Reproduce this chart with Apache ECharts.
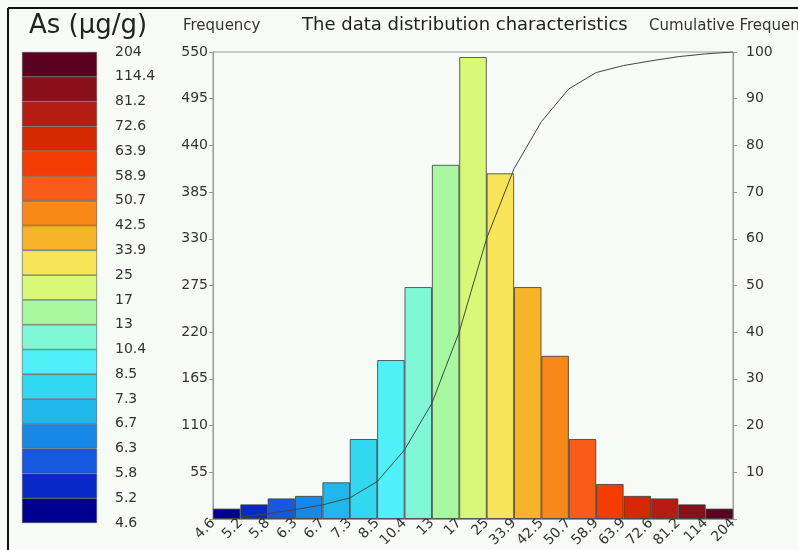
<!DOCTYPE html>
<html>
<head>
<meta charset="utf-8">
<style>
    html, body { margin: 0; padding: 0; background: #f6fbf6; }
    #chart { width: 798px; height: 550px; }
</style>
</head>
<body>
<div id="chart"></div>
<script src="https://cdn.jsdelivr.net/npm/echarts@6/dist/echarts.min.js"></script>
<script>
// class boundaries (x axis) and legend labels
var boundaries = ['4.6', '5.2', '5.8', '6.3', '6.7', '7.3', '8.5', '10.4', '13', '17', '25',
    '33.9', '42.5', '50.7', '58.9', '63.9', '72.6', '81.2', '114', '204'];
var legendLabels = ['4.6', '5.2', '5.8', '6.3', '6.7', '7.3', '8.5', '10.4', '13', '17', '25',
    '33.9', '42.5', '50.7', '58.9', '63.9', '72.6', '81.2', '114.4', '204'];
// frequency of each class, low -> high
var frequency = [12, 17, 24, 27, 43, 94, 187, 273, 417, 544, 407, 273, 192, 94, 41, 27, 24, 17, 12];
// cumulative frequency (%) at the right edge of each class
var cumulative = [0.4, 1.1, 2.0, 3.0, 4.5, 8.0, 14.8, 24.8, 40.1, 60.1, 75.0, 85.1, 92.1, 95.6, 97.1, 98.1, 99.0, 99.6, 100];
// class colours, low -> high
var classColors = ['#000090', '#0828c8', '#1858e0', '#1888e8', '#20b8ec', '#30d8f0', '#50f0f8',
    '#80f8d8', '#a8f8a0', '#d8f878', '#f8e458', '#f8b428', '#f88818', '#f85c18', '#f43c00',
    '#d42800', '#b41c14', '#8a0f1c', '#5a0022'];

var font = 'DejaVu Sans';
var txt = '#333';
var axisGray = '#999';

var classNames = [];
for (var i = 0; i < frequency.length; i++) classNames.push(boundaries[i] + '-' + boundaries[i + 1]);

// bars for the histogram
var barData = frequency.map(function (v, i) {
    return { value: v, itemStyle: { color: classColors[i] } };
});
// cumulative curve, placed on class edges
var lineData = cumulative.map(function (v, i) { return [i + 1, v]; });

// legend as stacked unit blocks
var legendSeries = classColors.map(function (c, i) {
    return {
        type: 'bar', xAxisIndex: 2, yAxisIndex: 2, stack: 'lg',
        barWidth: '100%', data: [1],
        itemStyle: { color: c, borderColor: '#555', borderWidth: 0.6 },
        silent: true
    };
});

var myChart = echarts.init(document.getElementById('chart'));
myChart.setOption({
    backgroundColor: '#f6fbf6',
    animation: false,
    textStyle: { fontFamily: font },
    title: [
        { text: 'As (\u00b5g/g)', left: 24, top: 8,
          textStyle: { fontSize: 26, fontWeight: 'normal', color: '#222', fontFamily: font } },
        { text: 'Frequency', left: 178, top: 14,
          textStyle: { fontSize: 15, fontWeight: 'normal', color: txt, fontFamily: font } },
        { text: 'The data distribution characteristics', left: 297, top: 11,
          textStyle: { fontSize: 18, fontWeight: 'normal', color: '#222', fontFamily: font } },
        { text: 'Cumulative Frequency', left: 644, top: 14,
          textStyle: { fontSize: 15, fontWeight: 'normal', color: txt, fontFamily: font } }
    ],
    graphic: [
        { type: 'line', shape: { x1: 8, y1: 8, x2: 798, y2: 8 }, style: { stroke: '#111', lineWidth: 2 } },
        { type: 'line', shape: { x1: 8, y1: 8, x2: 8, y2: 550 }, style: { stroke: '#111', lineWidth: 2 } }
    ],
    grid: [
        { left: 213, right: 65, top: 52, bottom: 28, show: true, borderColor: axisGray, borderWidth: 1,
          backgroundColor: 'transparent' },
        { left: 22, width: 75, top: 52, height: 471 }
    ],
    xAxis: [
        { type: 'category', gridIndex: 0, data: classNames, show: false, position: 'bottom', boundaryGap: true },
        { type: 'value', gridIndex: 0, min: 0, max: 19, interval: 1, position: 'bottom',
          axisLine: { show: true, lineStyle: { color: axisGray } },
          axisTick: { show: false },
          splitLine: { show: false },
          axisLabel: { rotate: 45, margin: 2, fontSize: 14, color: txt, fontFamily: font,
                       showMinLabel: true, showMaxLabel: true,
                       formatter: function (v) { return boundaries[v]; } } },
        { type: 'category', gridIndex: 1, data: ['As'], show: false }
    ],
    yAxis: [
        { type: 'value', gridIndex: 0, min: 0, max: 550, interval: 55, position: 'left',
          axisLine: { show: true, lineStyle: { color: axisGray } },
          axisTick: { show: true, length: 4, lineStyle: { color: axisGray } },
          splitLine: { show: false },
          axisLabel: { fontSize: 14, color: txt, margin: 5, fontFamily: font,
                       formatter: function (v) { return v === 0 ? '' : v; } } },
        { type: 'value', gridIndex: 0, min: 0, max: 100, interval: 10, position: 'right',
          axisLine: { show: true, lineStyle: { color: axisGray } },
          axisTick: { show: true, length: 4, lineStyle: { color: axisGray } },
          splitLine: { show: false },
          axisLabel: { fontSize: 14, color: txt, margin: 13, fontFamily: font,
                       formatter: function (v) { return v === 0 ? '' : v; } } },
        { type: 'value', gridIndex: 1, min: 0, max: 19, interval: 1, position: 'right',
          axisLine: { show: false }, axisTick: { show: false }, splitLine: { show: false },
          axisLabel: { fontSize: 14, color: txt, margin: 18, fontFamily: font,
                       showMinLabel: true, showMaxLabel: true,
                       formatter: function (v) { return legendLabels[v]; } } }
    ],
    series: [
        {
            name: 'Frequency', type: 'bar', xAxisIndex: 0, yAxisIndex: 0,
            barCategoryGap: 0, barGap: 0,
            itemStyle: { borderColor: '#3a3a3a', borderWidth: 0.8 },
            data: barData
        },
        {
            name: 'Cumulative Frequency', type: 'line', xAxisIndex: 1, yAxisIndex: 1,
            showSymbol: false, smooth: false,
            lineStyle: { color: '#444', width: 1 },
            data: lineData
        }
    ].concat(legendSeries)
});
</script>
</body>
</html>
